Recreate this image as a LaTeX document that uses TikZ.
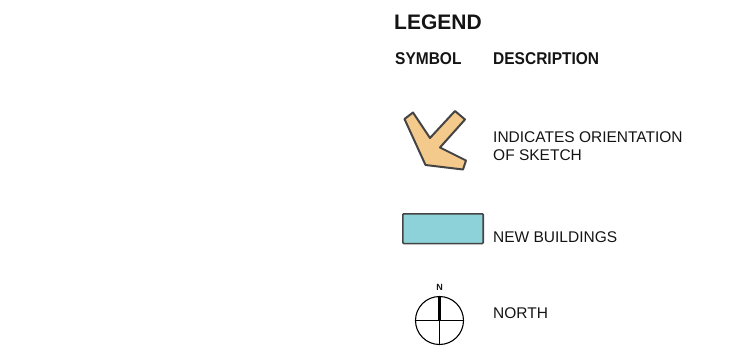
\documentclass[tikz,border=0pt]{standalone}
\usepackage{fontspec}
\usetikzlibrary{calc}
\setmainfont{Liberation Sans}
\definecolor{orient}{HTML}{F4C98C}
\definecolor{outl}{HTML}{444444}
\definecolor{bldg}{HTML}{8CD2D8}
\definecolor{txt}{HTML}{141414}
\tikzset{
  lbl/.style={anchor=base west, inner sep=0pt, text=txt, font=\fontsize{15.5}{18}\selectfont},
  hdr/.style={anchor=base west, inner sep=0pt, text=txt, font=\bfseries\fontsize{15.5}{18}\selectfont},
}
\begin{document}
\begin{tikzpicture}[x=1pt,y=-1pt]
\useasboundingbox (0,0) rectangle (731,354);
% titles
\node[anchor=base west, inner sep=0pt, text=txt, font=\bfseries\fontsize{21}{25}\selectfont] (legend) at (394,29) {LEGEND};
\node[hdr] (symbol) at (395,64) {\scalebox{1}[1.1]{SYMBOL}};
\node[hdr] (desc) at (493,64.5) {\scalebox{1}[1.1]{DESCRIPTION}};
% orientation arrow
\draw[outl, line width=2pt, fill=orient, line join=round]
  (425.5,165) -- (404.5,119) -- (413,112.5) -- (430,138) -- (455,111)
  -- (465,119.5) -- (440,147.5) -- (466,160.5) -- (463,169.5) -- cycle;
\node[lbl] (ori1) at (493,142) {INDICATES ORIENTATION};
\node[lbl] (ori2) at (493,160) {OF SKETCH};
% new buildings
\draw[outl, line width=1.6pt, fill=bldg, rounded corners=1pt] (402.8,213.8) rectangle (483.2,243.6);
\node[lbl] (nb) at (493,242.5) {NEW BUILDINGS};
% north
\coordinate (c) at (439.5,320.5);
\draw[black, line width=1.1pt] (c) circle (24);
\draw[black, line width=1.1pt] ($(c)+(-24,0)$) -- ($(c)+(24,0)$);
\draw[black, line width=1.1pt] (c) -- ($(c)+(0,24)$);
\draw[black, line width=3.2pt] ($(c)+(0,-24)$) -- (c);
\node[inner sep=0pt, text=txt, font=\bfseries\fontsize{9}{10}\selectfont] (n) at (439.5,287) {N};
\node[lbl] (north) at (493,318) {NORTH};
\end{tikzpicture}
\end{document}
